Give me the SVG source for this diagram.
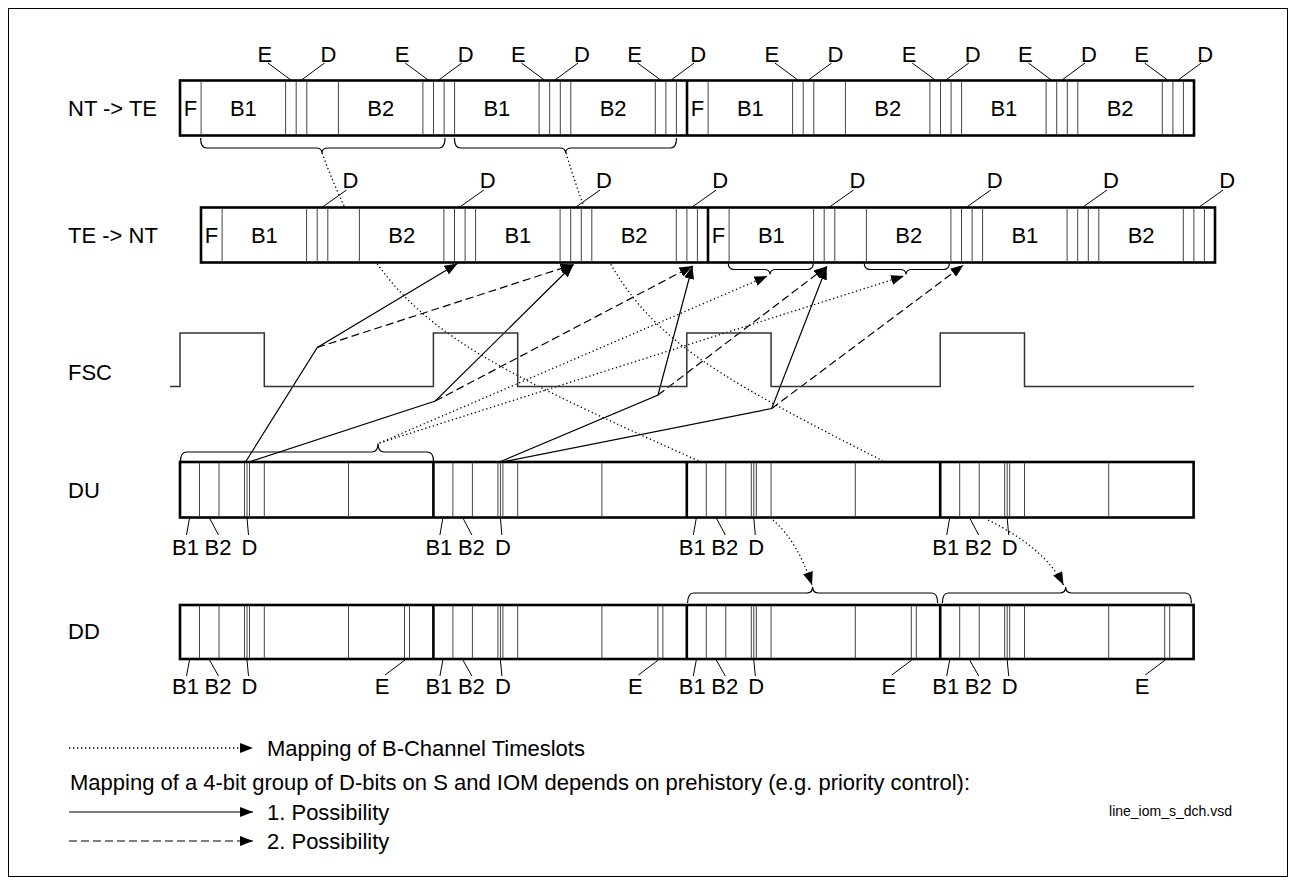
<svg xmlns="http://www.w3.org/2000/svg" width="1296" height="885" viewBox="0 0 1296 885">
<defs>
<style>
.frame{fill:#fff;stroke:#000;stroke-width:2.6}
.thick{stroke:#000;stroke-width:2.6;fill:none}
.bit{stroke:#444;stroke-width:1;fill:none}
.lead{stroke:#000;stroke-width:1;fill:none}
.brace{stroke:#000;stroke-width:1.2;fill:none}
.fsc{stroke:#333;stroke-width:1.5;fill:none}
.solid{stroke:#000;stroke-width:1.2;fill:none}
.dash{stroke:#000;stroke-width:1.2;fill:none;stroke-dasharray:8 4}
.dot{stroke:#000;stroke-width:1.3;fill:none;stroke-dasharray:1.3 2.7}
text{font-family:"Liberation Sans",Arial,sans-serif;font-size:22px;fill:#000}
.m{text-anchor:middle}
.small{font-size:14px}
</style>
<marker id="ah" viewBox="0 0 13 10" refX="13" refY="5" markerWidth="13" markerHeight="10" markerUnits="userSpaceOnUse" orient="auto">
<path d="M0,0 L13,5 L0,10 z" fill="#000" stroke="none"/>
</marker>
</defs>
<rect x="8.5" y="8.5" width="1279" height="868" fill="#fff" stroke="#000" stroke-width="1"/>

<g id="connectors">
<path class="dot" d="M322,153 C383,316 440,345 701,462"/>
<path class="dot" d="M566,153 C617,321 665,350 883,461"/>
<path class="dot" d="M379.5,443 L767.5,276" marker-end="url(#ah)"/>
<path class="dot" d="M379.5,443 L904,276" marker-end="url(#ah)"/>
<path class="dot" d="M773,520 Q798,542 812,585" marker-end="url(#ah)"/>
<path class="dot" d="M988,520 Q1045,548 1063.5,585" marker-end="url(#ah)"/>
<path class="solid" d="M245.5,462 L317.3,347.5 L457.5,263.5" marker-end="url(#ah)"/>
<path class="solid" d="M249,462 L435.3,401 L573.5,264.5" marker-end="url(#ah)"/>
<path class="solid" d="M499.5,462 L658,395 L692.5,266" marker-end="url(#ah)"/>
<path class="solid" d="M502,462 L771.7,408.5 L826.8,266.5" marker-end="url(#ah)"/>
<path class="dash" d="M317.3,347.5 L573.5,264.5" marker-end="url(#ah)"/>
<path class="dash" d="M435.3,401 L692.5,266" marker-end="url(#ah)"/>
<path class="dash" d="M658,395 L826.8,266.5" marker-end="url(#ah)"/>
<path class="dash" d="M771.7,408.5 L963.5,265" marker-end="url(#ah)"/>
</g>

<g id="row-labels">
<text x="68" y="116">NT -&gt; TE</text>
<text x="68" y="243">TE -&gt; NT</text>
<text x="68" y="380">FSC</text>
<text x="68" y="498">DU</text>
<text x="68" y="639">DD</text>
</g>

<g id="nt-te">
<rect class="frame" x="180" y="80.5" width="1014" height="55"/>
<path class="bit" d="M201.1,81V135M285.6,81V135M296.2,81V135M306.8,81V135M338.4,81V135M422.9,81V135M433.5,81V135M444.1,81V135M454.6,81V135M539.1,81V135M549.7,81V135M560.3,81V135M570.8,81V135M655.3,81V135M665.9,81V135M676.4,81V135M708.1,81V135M792.6,81V135M803.2,81V135M813.8,81V135M845.4,81V135M929.9,81V135M940.5,81V135M951.1,81V135M961.6,81V135M1046.1,81V135M1056.7,81V135M1067.3,81V135M1077.8,81V135M1162.3,81V135M1172.9,81V135M1183.4,81V135"/>
<path class="thick" d="M687,80.5V135.5"/>
<text class="m" x="190.6" y="116">F</text>
<text class="m" x="243.4" y="116">B1</text>
<text class="m" x="380.7" y="116">B2</text>
<text class="m" x="496.9" y="116">B1</text>
<text class="m" x="613.1" y="116">B2</text>
<text class="m" x="697.6" y="116">F</text>
<text class="m" x="750.4" y="116">B1</text>
<text class="m" x="887.7" y="116">B2</text>
<text class="m" x="1003.9" y="116">B1</text>
<text class="m" x="1120.1" y="116">B2</text>
<path class="lead" d="M290.9,80L267.9,63M428.2,80L405.2,63M544.4,80L521.4,63M660.6,80L637.6,63M797.9,80L774.9,63M935.2,80L912.2,63M1051.4,80L1028.4,63M1167.6,80L1144.6,63M301.5,80L324.5,63M438.8,80L461.8,63M555,80L578,63M671.2,80L694.2,63M808.5,80L831.5,63M945.8,80L968.8,63M1062,80L1085,63M1178.2,80L1201.2,63"/>
<text class="m" x="264.9" y="62">E</text><text class="m" x="328.5" y="62">D</text>
<text class="m" x="402.2" y="62">E</text><text class="m" x="465.8" y="62">D</text>
<text class="m" x="518.4" y="62">E</text><text class="m" x="582" y="62">D</text>
<text class="m" x="634.6" y="62">E</text><text class="m" x="698.2" y="62">D</text>
<text class="m" x="771.9" y="62">E</text><text class="m" x="835.5" y="62">D</text>
<text class="m" x="909.2" y="62">E</text><text class="m" x="972.8" y="62">D</text>
<text class="m" x="1025.4" y="62">E</text><text class="m" x="1089" y="62">D</text>
<text class="m" x="1141.6" y="62">E</text><text class="m" x="1205.2" y="62">D</text>
<path class="brace" d="M200.6,138 Q200.6,148 206.6,148 L316,148 Q322,148 322,153 Q322,148 328,148 L439,148 Q445,148 445,138"/>
<path class="brace" d="M454.4,138 Q454.4,148 460.4,148 L559.6,148 Q565.6,148 565.6,153 Q565.6,148 571.6,148 L670.5,148 Q676.5,148 676.5,138"/>
</g>

<g id="te-nt">
<rect class="frame" x="201" y="207.5" width="1014" height="55"/>
<path class="bit" d="M222.1,208V262M306.6,208V262M317.2,208V262M327.8,208V262M359.4,208V262M443.9,208V262M454.5,208V262M465.1,208V262M475.6,208V262M560.1,208V262M570.7,208V262M581.3,208V262M591.8,208V262M676.3,208V262M686.9,208V262M697.4,208V262M729.1,208V262M813.6,208V262M824.2,208V262M834.8,208V262M866.4,208V262M950.9,208V262M961.5,208V262M972.1,208V262M982.6,208V262M1067.1,208V262M1077.7,208V262M1088.3,208V262M1098.8,208V262M1183.3,208V262M1193.9,208V262M1204.4,208V262"/>
<path class="thick" d="M708,207.5V262.5"/>
<text class="m" x="211.6" y="243">F</text>
<text class="m" x="264.4" y="243">B1</text>
<text class="m" x="401.7" y="243">B2</text>
<text class="m" x="517.9" y="243">B1</text>
<text class="m" x="634.1" y="243">B2</text>
<text class="m" x="718.6" y="243">F</text>
<text class="m" x="771.4" y="243">B1</text>
<text class="m" x="908.7" y="243">B2</text>
<text class="m" x="1024.9" y="243">B1</text>
<text class="m" x="1141.1" y="243">B2</text>
<path class="lead" d="M322.5,207L346.5,190M459.8,207L483.8,190M576,207L600,190M692.2,207L716.2,190M829.5,207L853.5,190M966.8,207L990.8,190M1083,207L1107,190M1199.2,207L1223.2,190"/>
<text class="m" x="350.5" y="188">D</text>
<text class="m" x="487.8" y="188">D</text>
<text class="m" x="604" y="188">D</text>
<text class="m" x="720.2" y="188">D</text>
<text class="m" x="857.5" y="188">D</text>
<text class="m" x="994.8" y="188">D</text>
<text class="m" x="1111" y="188">D</text>
<text class="m" x="1227.2" y="188">D</text>
<path class="brace" d="M728.3,263.5 Q728.3,269.5 734.3,269.5 L764,269.5 Q770,269.5 770,274.5 Q770,269.5 776,269.5 L807.3,269.5 Q813.3,269.5 813.3,263.5"/>
<path class="brace" d="M864.3,263.5 Q864.3,269.5 870.3,269.5 L900,269.5 Q906,269.5 906,274.5 Q906,269.5 912,269.5 L943.3,269.5 Q949.3,269.5 949.3,263.5"/>
</g>

<g id="fsc">
<path class="fsc" d="M170,386.5 H180 V333 H264.3 V386.5 H433.4 V333 H517.7 V386.5 H686.8 V333 H771.1 V386.5 H940.2 V333 H1024.5 V386.5 H1194"/>
</g>

<g id="du">
<rect class="frame" x="180" y="462" width="1013.6" height="55.5"/>
<path class="bit" d="M199.5,463V517M219,463V517M244.5,463V517M247,463V517M249.5,463V517M264.3,463V517M348.5,463V517M452.9,463V517M472.4,463V517M497.9,463V517M500.4,463V517M502.9,463V517M517.7,463V517M601.9,463V517M706.3,463V517M725.8,463V517M751.3,463V517M753.8,463V517M756.3,463V517M771.1,463V517M855.3,463V517M959.7,463V517M979.2,463V517M1004.7,463V517M1007.2,463V517M1009.7,463V517M1024.5,463V517M1108.7,463V517"/>
<path class="thick" d="M433.4,462V517.5M686.8,462V517.5M940.2,462V517.5"/>
<path class="lead" d="M189.5,518L186.5,535M209.5,518L218.5,535M247,518L248.5,535M442.9,518L439.9,535M462.9,518L471.9,535M500.4,518L501.9,535M696.3,518L693.3,535M716.3,518L725.3,535M753.8,518L755.3,535M949.7,518L946.7,535M969.7,518L978.7,535M1007.2,518L1008.7,535"/>
<text class="m" x="185.5" y="555">B1</text><text class="m" x="218" y="555">B2</text><text class="m" x="249.5" y="555">D</text>
<text class="m" x="438.9" y="555">B1</text><text class="m" x="471.4" y="555">B2</text><text class="m" x="502.9" y="555">D</text>
<text class="m" x="692.3" y="555">B1</text><text class="m" x="724.8" y="555">B2</text><text class="m" x="756.3" y="555">D</text>
<text class="m" x="945.7" y="555">B1</text><text class="m" x="978.2" y="555">B2</text><text class="m" x="1009.7" y="555">D</text>
<path class="brace" d="M180.5,461 Q180.5,452 187,452 L372,452 Q378,452 378,443.5 Q378,452 384,452 L427,452 Q433.5,452 433.5,461"/>
</g>

<g id="dd">
<rect class="frame" x="180" y="605" width="1013.6" height="54"/>
<path class="bit" d="M199.5,606V658M219,606V658M244.5,606V658M247,606V658M249.5,606V658M264.3,606V658M348.5,606V658M404.5,606V658M409.5,606V658M452.9,606V658M472.4,606V658M497.9,606V658M500.4,606V658M502.9,606V658M517.7,606V658M601.9,606V658M657.9,606V658M662.9,606V658M706.3,606V658M725.8,606V658M751.3,606V658M753.8,606V658M756.3,606V658M771.1,606V658M855.3,606V658M911.3,606V658M916.3,606V658M959.7,606V658M979.2,606V658M1004.7,606V658M1007.2,606V658M1009.7,606V658M1024.5,606V658M1108.7,606V658M1164.7,606V658M1169.7,606V658"/>
<path class="thick" d="M433.4,605V659M686.8,605V659M940.2,605V659"/>
<path class="lead" d="M189.5,660L186.5,676M209.5,660L218.5,676M247,660L248.5,676M405,660L385,675M442.9,660L439.9,676M462.9,660L471.9,676M500.4,660L501.9,676M658.4,660L638.4,675M696.3,660L693.3,676M716.3,660L725.3,676M753.8,660L755.3,676M911.8,660L891.8,675M949.7,660L946.7,676M969.7,660L978.7,676M1007.2,660L1008.7,676M1165.2,660L1145.2,675"/>
<text class="m" x="185.5" y="694">B1</text><text class="m" x="218" y="694">B2</text><text class="m" x="249.5" y="694">D</text><text class="m" x="382" y="694">E</text>
<text class="m" x="438.9" y="694">B1</text><text class="m" x="471.4" y="694">B2</text><text class="m" x="502.9" y="694">D</text><text class="m" x="635.4" y="694">E</text>
<text class="m" x="692.3" y="694">B1</text><text class="m" x="724.8" y="694">B2</text><text class="m" x="756.3" y="694">D</text><text class="m" x="888.8" y="694">E</text>
<text class="m" x="945.7" y="694">B1</text><text class="m" x="978.2" y="694">B2</text><text class="m" x="1009.7" y="694">D</text><text class="m" x="1142.2" y="694">E</text>
<path class="brace" d="M687.6,603 Q687.6,593 694,593 L806.6,593 Q812.6,593 812.6,587 Q812.6,593 818.6,593 L931.6,593 Q937.6,593 937.6,603"/>
<path class="brace" d="M942.4,603 Q942.4,593 948.4,593 L1059.7,593 Q1065.7,593 1065.7,587 Q1065.7,593 1071.7,593 L1185.4,593 Q1191.4,593 1191.4,603"/>
</g>

<g id="legend">
<path class="dot" d="M69,748 L253,748" marker-end="url(#ah)"/>
<text x="267" y="756">Mapping of B-Channel Timeslots</text>
<text x="70" y="790">Mapping of a 4-bit group of D-bits on S and IOM depends on prehistory (e.g. priority control):</text>
<path class="solid" d="M69,812 L253,812" marker-end="url(#ah)"/>
<text x="267" y="820">1. Possibility</text>
<path class="dash" d="M69,841 L253,841" marker-end="url(#ah)"/>
<text x="267" y="849">2. Possibility</text>
<text class="small" x="1232" y="816" text-anchor="end">line_iom_s_dch.vsd</text>
</g>
</svg>
